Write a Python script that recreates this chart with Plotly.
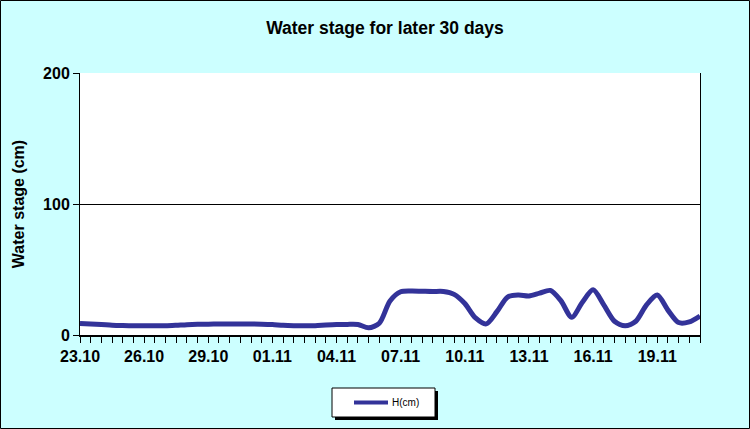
import plotly.graph_objects as go

# Half-daily water stage readings, 23.10 00h .. 21.11 00h
h_cm = [8.8, 8.4, 8.0, 7.5, 7.2, 7.0, 7.0, 7.0, 7.0, 7.4,
        7.9, 8.2, 8.3, 8.4, 8.4, 8.4, 8.4, 8.3, 8.0, 7.4,
        7.1, 7.0, 7.1, 7.6, 8.0, 8.1, 8.0, 5.5, 9.0, 26.0,
        33.0, 33.6, 33.4, 33.2, 33.2, 31.0, 24.0, 13.0, 8.5, 17.8,
        29.0, 30.5, 29.8, 32.0, 34.0, 26.0, 13.5, 25.0, 34.5, 23.0,
        10.5, 7.0, 10.5, 23.0, 30.5, 19.0, 9.5, 10.0, 14.5]
tick_labels = ["23.10", "26.10", "29.10", "01.11", "04.11",
               "07.11", "10.11", "13.11", "16.11", "19.11"]
label_step = 6
series_name = "H(cm)"
title_text = "Water stage for later 30 days"
y_title = "Water stage (cm)"
y_ticks = [0, 100, 200]

n = len(h_cm)
x = list(range(n))
tickvals = list(range(n))
ticktext = [tick_labels[i // label_step] if (i % label_step == 0 and i // label_step < len(tick_labels)) else "" for i in range(n)]

W, H = 750, 429
L, R, T, B = 80, 50, 73, 94
pw, ph = W - L - R, H - T - B
line_color = "#333399"

def px(xp):
    return (xp - L) / pw

def py(yp):
    return (H - B - yp) / ph

fig = go.Figure()
fig.add_trace(go.Scatter(
    x=x, y=h_cm, mode="lines", name=series_name, showlegend=False,
    line=dict(color=line_color, width=5, shape="spline", smoothing=0.8),
))

font_family = "Liberation Sans, Arial, sans-serif"

fig.update_layout(
    width=W, height=H,
    margin=dict(l=L, r=R, t=T, b=B),
    paper_bgcolor="#CCFFFF",
    plot_bgcolor="white",
    font=dict(family=font_family, color="black"),
    title=dict(text="<b>" + title_text + "</b>", x=385 / W, xanchor="center",
               xref="container", y=1 - 28 / H, yref="container", yanchor="middle",
               font=dict(size=17.5, family=font_family, color="black")),
    showlegend=False,
    xaxis=dict(
        range=[0, n - 1], tickvals=tickvals, ticktext=ticktext,
        ticks="outside", ticklen=6, tickcolor="black", tickwidth=1,
        showline=True, linecolor="black", linewidth=2, mirror=False,
        showgrid=False, zeroline=False,
        tickfont=dict(size=16, family=font_family, color="black", weight="bold"),
    ),
    yaxis=dict(
        range=[0, 200], tickvals=y_ticks,
        ticks="outside", ticklen=6, tickcolor="black", tickwidth=1,
        showline=True, linecolor="black", linewidth=1, mirror=True,
        showgrid=True, gridcolor="black", gridwidth=1, zeroline=False,
        tickfont=dict(size=16, family=font_family, color="black", weight="bold"),
        title=dict(text="<b>" + y_title + "</b>", standoff=14,
                   font=dict(size=16, family=font_family, color="black")),
    ),
)

# legend box with drop shadow
fig.add_shape(type="rect", xref="paper", yref="paper",
              x0=px(335), x1=px(438), y0=py(420), y1=py(391),
              fillcolor="black", line=dict(width=0), layer="above")
fig.add_shape(type="rect", xref="paper", yref="paper",
              x0=px(332), x1=px(435), y0=py(417), y1=py(388),
              fillcolor="white", line=dict(color="black", width=1), layer="above")
fig.add_shape(type="line", xref="paper", yref="paper",
              x0=px(354), x1=px(388), y0=py(402.5), y1=py(402.5),
              line=dict(color=line_color, width=4), layer="above")
fig.add_annotation(text=series_name, xref="paper", yref="paper",
                   x=px(390), y=py(402.5), xanchor="left", yanchor="middle",
                   showarrow=False, font=dict(size=10, family=font_family, color="black"))
# outer border of chart
fig.add_shape(type="rect", xref="paper", yref="paper",
              x0=px(0.5), x1=px(W - 0.5), y0=py(H - 0.5), y1=py(0.5),
              line=dict(color="black", width=1), fillcolor="rgba(0,0,0,0)", layer="below")

fig.write_html("out.html", config={"displayModeBar": False},
               post_script="document.body.style.margin='0';")
